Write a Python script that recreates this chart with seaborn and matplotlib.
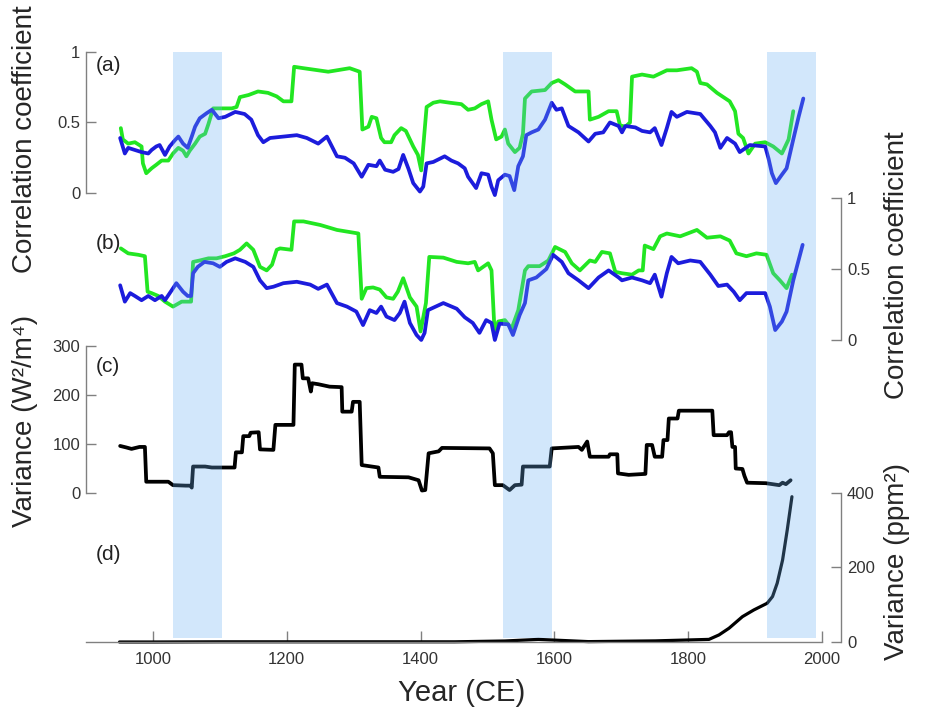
import numpy as np
import pandas as pd
import seaborn as sns
import matplotlib
matplotlib.use('Agg')
import matplotlib.pyplot as plt

# ---- data ----
# (a) correlation, green and blue series
a_green_year = [952, 955, 963, 973, 983, 985, 990, 998, 1005, 1013,
                1023, 1030, 1038, 1045, 1050, 1055, 1063, 1070, 1078, 1083,
                1090, 1103, 1118, 1125, 1130, 1143, 1157, 1172, 1185, 1195,
                1207, 1211, 1225, 1262, 1294, 1309, 1313, 1322, 1327, 1334,
                1341, 1346, 1356, 1361, 1371, 1378, 1389, 1396, 1401, 1409,
                1419, 1429, 1444, 1461, 1471, 1481, 1491, 1501, 1506, 1513,
                1521, 1526, 1531, 1541, 1548, 1553, 1556, 1566, 1586, 1596,
                1606, 1616, 1631, 1651, 1653, 1666, 1681, 1693, 1698, 1706,
                1713, 1716, 1731, 1748, 1768, 1783, 1805, 1813, 1818, 1828,
                1843, 1862, 1870, 1875, 1882, 1890, 1900, 1915, 1927, 1940,
                1950, 1957]
a_green_r = [.46, .38, .35, .36, .33, .21, .14, .175, .20, .23,
             .23, .28, .32, .30, .26, .30, .35, .40, .42, .49,
             .60, .60, .60, .61, .68, .695, .72, .71, .685, .65,
             .65, .895, .885, .86, .885, .86, .45, .47, .54, .53,
             .39, .36, .36, .41, .46, .44, .33, .27, .16, .61,
             .64, .65, .64, .63, .59, .60, .63, .65, .52, .38,
             .40, .45, .35, .29, .32, .42, .67, .72, .73, .78,
             .80, .77, .72, .72, .52, .54, .58, .58, .48, .47,
             .50, .825, .84, .825, .87, .87, .885, .86, .78, .77,
             .71, .65, .58, .42, .39, .28, .35, .36, .33, .28,
             .38, .58]

a_blue_year = [951, 958, 963, 973, 983, 993, 998, 1005, 1010, 1018,
               1025, 1033, 1038, 1045, 1052, 1058, 1063, 1070, 1080, 1088,
               1098, 1108, 1123, 1137, 1147, 1157, 1165, 1175, 1195, 1215,
               1230, 1247, 1260, 1275, 1287, 1300, 1312, 1322, 1334, 1339,
               1347, 1359, 1367, 1374, 1382, 1389, 1399, 1404, 1409, 1419,
               1436, 1446, 1456, 1466, 1471, 1483, 1491, 1501, 1506, 1511,
               1516, 1526, 1533, 1540, 1546, 1553, 1558, 1566, 1576, 1586,
               1596, 1603, 1611, 1621, 1636, 1651, 1661, 1673, 1683, 1696,
               1701, 1706, 1721, 1731, 1743, 1750, 1760, 1768, 1775, 1783,
               1798, 1818, 1833, 1840, 1848, 1858, 1870, 1877, 1892, 1915,
               1920, 1925, 1931, 1940, 1947, 1957, 1965, 1972]
a_blue_r = [.39, .28, .32, .305, .29, .28, .305, .33, .34, .27,
            .33, .375, .40, .35, .32, .40, .47, .53, .565, .59,
            .53, .54, .575, .56, .52, .41, .36, .39, .40, .41,
            .39, .35, .40, .26, .25, .21, .115, .20, .19, .23,
            .165, .15, .17, .27, .17, .07, .01, .045, .21, .22,
            .26, .23, .21, .175, .115, .035, .14, .13, .045, -.015,
            .09, .13, .12, .02, .19, .26, .41, .43, .45, .52,
            .64, .59, .60, .475, .43, .365, .42, .43, .50, .475,
            .43, .475, .465, .44, .43, .46, .34, .46, .575, .54,
            .575, .56, .475, .43, .32, .39, .35, .29, .34, .33,
            .245, .14, .07, .13, .175, .38, .54, .67]

# (b) correlation, green and blue series
b_green_year = [952, 963, 978, 988, 992, 998, 1008, 1018, 1030, 1043,
                1057, 1060, 1070, 1083, 1095, 1108, 1121, 1130, 1140, 1150,
                1160, 1170, 1178, 1185, 1190, 1207, 1211, 1225, 1250, 1275,
                1307, 1312, 1319, 1329, 1339, 1349, 1359, 1366, 1374, 1384,
                1394, 1400, 1408, 1413, 1434, 1454, 1471, 1481, 1486, 1501,
                1506, 1511, 1516, 1526, 1536, 1546, 1556, 1561, 1578, 1591,
                1601, 1616, 1626, 1638, 1653, 1661, 1671, 1683, 1691, 1701,
                1716, 1726, 1732, 1735, 1748, 1758, 1768, 1788, 1813, 1828,
                1848, 1862, 1872, 1887, 1902, 1917, 1927, 1937, 1947, 1955]
b_green_r = [.645, .61, .60, .59, .34, .33, .31, .27, .235, .27,
             .27, .55, .56, .575, .575, .59, .61, .635, .68, .635,
             .515, .49, .53, .635, .645, .635, .835, .835, .81, .775,
             .75, .29, .365, .37, .355, .30, .29, .34, .435, .30,
             .235, .06, .26, .585, .58, .55, .54, .55, .49, .54,
             .49, .02, .13, .14, .08, .21, .49, .52, .52, .56,
             .655, .62, .54, .49, .56, .55, .62, .61, .48, .47,
             .46, .49, .49, .665, .64, .73, .75, .73, .775, .72,
             .73, .70, .61, .59, .61, .60, .47, .42, .365, .46]

b_blue_year = [951, 958, 966, 973, 983, 993, 1003, 1013, 1018, 1028,
               1035, 1045, 1052, 1057, 1060, 1067, 1077, 1090, 1100, 1110,
               1123, 1138, 1150, 1160, 1170, 1180, 1195, 1215, 1235, 1247,
               1260, 1275, 1290, 1304, 1314, 1324, 1334, 1341, 1349, 1361,
               1369, 1376, 1384, 1394, 1401, 1406, 1411, 1434, 1454, 1466,
               1478, 1488, 1498, 1506, 1511, 1518, 1531, 1538, 1548, 1556,
               1561, 1573, 1588, 1598, 1611, 1621, 1636, 1651, 1666, 1681,
               1696, 1701, 1716, 1731, 1743, 1750, 1760, 1768, 1775, 1785,
               1803, 1818, 1833, 1845, 1858, 1868, 1877, 1887, 1902, 1915,
               1922, 1930, 1940, 1947, 1957, 1971]
b_blue_r = [.385, .27, .33, .31, .28, .31, .28, .31, .28, .35,
            .40, .34, .31, .31, .47, .515, .55, .54, .515, .55,
            .575, .55, .515, .42, .365, .375, .40, .41, .39, .36,
            .39, .26, .235, .20, .105, .21, .19, .235, .165, .14,
            .19, .27, .12, .035, .0, .05, .21, .26, .22, .16,
            .12, .05, .14, .12, .0, .115, .11, .035, .175, .26,
            .42, .44, .50, .60, .55, .47, .42, .365, .44, .49,
            .44, .42, .44, .42, .40, .46, .305, .47, .585, .54,
            .56, .55, .46, .38, .39, .34, .28, .33, .33, .33,
            .235, .07, .13, .20, .42, .67]

# (c) variance W2/m4
c_year = [951, 960, 968, 980, 988, 990, 1023, 1030, 1049, 1056,
          1058, 1060, 1078, 1088, 1122, 1124, 1133, 1135, 1144, 1146,
          1158, 1160, 1180, 1183, 1210, 1212, 1222, 1224, 1232, 1236,
          1238, 1247, 1264, 1282, 1283, 1297, 1299, 1309, 1312, 1327,
          1337, 1339, 1382, 1397, 1402, 1407, 1412, 1427, 1432, 1503,
          1508, 1511, 1523, 1533, 1541, 1551, 1553, 1593, 1596, 1636,
          1641, 1649, 1653, 1681, 1683, 1694, 1695, 1711, 1736, 1738,
          1746, 1750, 1761, 1763, 1769, 1771, 1784, 1786, 1836, 1838,
          1858, 1861, 1864, 1866, 1870, 1871, 1881, 1884, 1888, 1916,
          1936, 1941, 1946, 1953]
c_var = [96, 93, 90, 94, 94, 23, 23, 16, 15, 15,
         11, 54, 54, 52, 52, 83, 83, 116, 116, 123,
         124, 89, 88, 139, 139, 262, 262, 234, 234, 207,
         224, 222, 217, 216, 166, 166, 186, 186, 57, 54,
         52, 33, 32, 26, 5, 6, 81, 85, 92, 91,
         81, 16, 16, 6, 16, 17, 54, 54, 91, 94,
         88, 105, 74, 74, 79, 79, 40, 37, 39, 98,
         98, 74, 74, 108, 108, 152, 152, 168, 168, 118,
         118, 124, 124, 94, 94, 50, 49, 35, 21, 20,
         16, 21, 18, 26]

# (d) variance ppm2
d_year = [950, 1000, 1100, 1200, 1300, 1400, 1451, 1526, 1576, 1601,
          1651, 1751, 1831, 1846, 1861, 1881, 1898, 1918, 1926, 1933,
          1941, 1948, 1955]
d_var = [0, 0, 0.5, 0.5, 0.5, 0.5, 0.5, 2.7, 7, 5,
         1, 3, 7, 19, 37, 68, 86, 104, 122, 158,
         220, 301, 390]

band_start = [1030, 1523, 1918]
band_end = [1103, 1596, 1991]

# ---- styling ----
sns.set_style('white')
plt.rcParams['font.family'] = ['Liberation Sans', 'DejaVu Sans']

GREEN = '#22e622'
BLUE = '#1c1cdc'
SPINE = '#808080'
TXT = '#333333'
LW = 2.7

fig = plt.figure(figsize=(9.25, 7.15), dpi=100)
L, W = 0.093, 0.7957


def style_axis(ax, side, lo, hi, ticks, labels):
    ax.set_xlim(900, 2000)
    ax.set_ylim(lo, hi)
    ax.patch.set_alpha(0)
    for s in ['top', 'bottom', 'left', 'right']:
        ax.spines[s].set_visible(False)
    sp = ax.spines[side]
    sp.set_visible(True)
    sp.set_color(SPINE)
    sp.set_linewidth(1.0)
    sp.set_bounds(lo, hi)
    if side == 'right':
        sp.set_position(('outward', 14))
    ax.yaxis.set_ticks_position(side)
    ax.set_yticks(ticks)
    ax.set_yticklabels(labels)
    ax.tick_params(axis='y', direction='in', length=7, width=1, color=SPINE,
                   labelsize=12, labelcolor=TXT, pad=4)
    ax.set_xticks([])
    ax.set_xlabel('')
    ax.set_ylabel('')
    for ln in ax.lines:
        ln.set_clip_on(False)


# (a)
ax_a = fig.add_axes([L, 0.7301, W, 0.1972])
sns.lineplot(x=a_green_year, y=a_green_r, ax=ax_a, color=GREEN, lw=LW, estimator=None)
sns.lineplot(x=a_blue_year, y=a_blue_r, ax=ax_a, color=BLUE, lw=LW, estimator=None)
style_axis(ax_a, 'left', 0, 1, [0, 0.5, 1], ['0', '0.5', '1'])

# (b)
ax_b = fig.add_axes([L, 0.5245, W, 0.1986])
sns.lineplot(x=b_green_year, y=b_green_r, ax=ax_b, color=GREEN, lw=LW, estimator=None)
sns.lineplot(x=b_blue_year, y=b_blue_r, ax=ax_b, color=BLUE, lw=LW, estimator=None)
style_axis(ax_b, 'right', 0, 1, [0, 0.5, 1], ['0', '0.5', '1'])

# (c)
ax_c = fig.add_axes([L, 0.3105, W, 0.2056])
sns.lineplot(x=c_year, y=c_var, ax=ax_c, color='black', lw=LW, estimator=None)
style_axis(ax_c, 'left', 0, 300, [0, 100, 200, 300], ['0', '100', '200', '300'])

# (d)
ax_d = fig.add_axes([L, 0.1021, W, 0.2084])
sns.lineplot(x=d_year, y=d_var, ax=ax_d, color='black', lw=2.3, estimator=None)
style_axis(ax_d, 'right', 0, 400, [0, 200, 400], ['0', '200', '400'])
ax_d.spines['bottom'].set_visible(True)
ax_d.spines['bottom'].set_color(SPINE)
ax_d.spines['bottom'].set_linewidth(1.0)
ax_d.xaxis.set_ticks_position('bottom')
ax_d.set_xticks([1000, 1200, 1400, 1600, 1800, 2000])
ax_d.set_xticklabels(['1000', '1200', '1400', '1600', '1800', '2000'])
ax_d.tick_params(axis='x', direction='in', length=8, width=1, color=SPINE,
                 labelsize=12, labelcolor=TXT, pad=7)

# shaded periods drawn over everything
ax_band = fig.add_axes([L, 0.1077, W, 0.8196])
ax_band.set_xlim(900, 2000)
ax_band.set_ylim(0, 1)
ax_band.axis('off')
for s, e in zip(band_start, band_end):
    ax_band.axvspan(s, e, color='#6bb0f2', alpha=0.3, lw=0)

# panel letters
for lab, yy in [('(a)', 0.909), ('(b)', 0.660), ('(c)', 0.487), ('(d)', 0.224)]:
    fig.text(0.103, yy, lab, fontsize=15, color='#222222', va='center', ha='left')

# axis titles
fig.text(0.027, 0.806, 'Correlation coefficient', rotation=90, fontsize=20,
         va='center', ha='center')
fig.text(0.027, 0.411, 'Variance (W\u00b2/m\u2074)', rotation=90, fontsize=20,
         va='center', ha='center')
fig.text(0.970, 0.629, 'Correlation coefficient', rotation=90, fontsize=20,
         va='center', ha='center')
fig.text(0.970, 0.214, 'Variance (ppm\u00b2)', rotation=90, fontsize=20,
         va='center', ha='center')
fig.text(0.4995, 0.031, 'Year (CE)', fontsize=21, va='center', ha='center')

fig.savefig('out.png', dpi=100)
